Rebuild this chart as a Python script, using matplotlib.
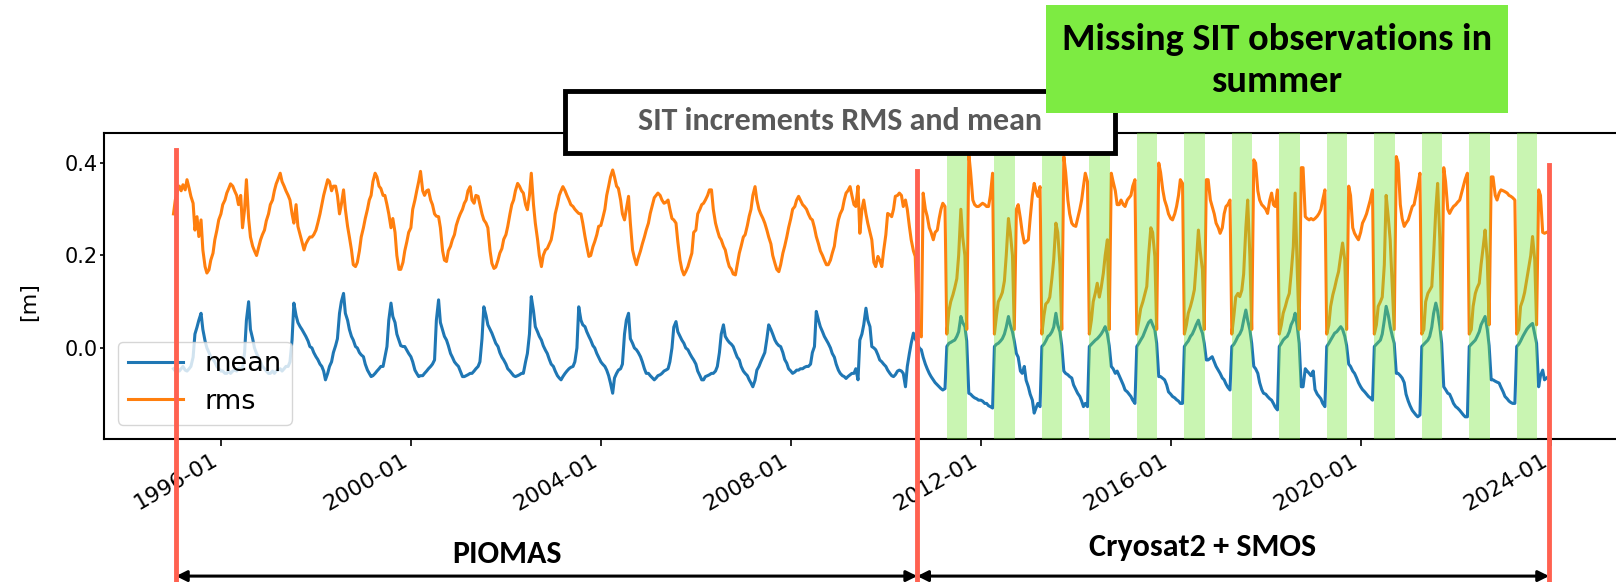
import matplotlib
matplotlib.use("Agg")
import matplotlib.pyplot as plt
import matplotlib.dates as mdates
from matplotlib.patches import Rectangle
from matplotlib import font_manager
import pandas as pd

# ---------------- data (semi-monthly samples: 1st and 15th of each month) ----------------
start_date = "1995-01-01"

rms_values = [
    # 1995
    0.29, 0.32, 0.34, 0.35, 0.34, 0.353, 0.342, 0.364, 0.346, 0.328, 0.313, 0.255, 0.284, 0.241, 0.277, 0.212, 0.176, 0.162, 0.169, 0.19, 0.205, 0.234, 0.255, 0.277,
    # 1996
    0.29, 0.31, 0.32, 0.335, 0.345, 0.355, 0.35, 0.34, 0.33, 0.31, 0.33, 0.26, 0.30, 0.364, 0.28, 0.24, 0.22, 0.21, 0.20, 0.215, 0.234, 0.245, 0.255, 0.275,
    # 1997
    0.29, 0.31, 0.32, 0.34, 0.355, 0.365, 0.378, 0.36, 0.35, 0.34, 0.33, 0.32, 0.29, 0.27, 0.31, 0.263, 0.245, 0.23, 0.212, 0.225, 0.234, 0.24, 0.24, 0.245,
    # 1998
    0.255, 0.27, 0.29, 0.31, 0.33, 0.345, 0.364, 0.36, 0.34, 0.35, 0.35, 0.33, 0.29, 0.31, 0.342, 0.30, 0.263, 0.24, 0.212, 0.18, 0.176, 0.185, 0.21, 0.24,
    # 1999
    0.26, 0.28, 0.30, 0.32, 0.33, 0.36, 0.378, 0.37, 0.35, 0.345, 0.33, 0.33, 0.31, 0.29, 0.26, 0.28, 0.25, 0.20, 0.17, 0.17, 0.185, 0.21, 0.23, 0.25,
    # 2000
    0.26, 0.30, 0.32, 0.34, 0.36, 0.382, 0.34, 0.33, 0.34, 0.342, 0.32, 0.31, 0.29, 0.285, 0.284, 0.26, 0.21, 0.19, 0.187, 0.21, 0.22, 0.234, 0.245, 0.265,
    # 2001
    0.28, 0.29, 0.30, 0.313, 0.32, 0.34, 0.349, 0.32, 0.313, 0.33, 0.328, 0.31, 0.29, 0.277, 0.27, 0.26, 0.21, 0.183, 0.172, 0.175, 0.19, 0.205, 0.215, 0.235,
    # 2002
    0.245, 0.263, 0.29, 0.31, 0.32, 0.34, 0.356, 0.35, 0.34, 0.335, 0.31, 0.299, 0.33, 0.378, 0.31, 0.27, 0.235, 0.20, 0.176, 0.20, 0.212, 0.215, 0.225, 0.234,
    # 2003
    0.26, 0.29, 0.31, 0.33, 0.34, 0.349, 0.34, 0.33, 0.32, 0.31, 0.306, 0.30, 0.295, 0.291, 0.29, 0.27, 0.241, 0.22, 0.198, 0.20, 0.219, 0.23, 0.245, 0.263,
    # 2004
    0.265, 0.28, 0.30, 0.33, 0.35, 0.37, 0.385, 0.37, 0.35, 0.345, 0.32, 0.29, 0.277, 0.30, 0.328, 0.27, 0.212, 0.195, 0.18, 0.195, 0.21, 0.225, 0.24, 0.255,
    # 2005
    0.27, 0.291, 0.31, 0.325, 0.33, 0.335, 0.33, 0.32, 0.313, 0.315, 0.32, 0.30, 0.28, 0.277, 0.27, 0.23, 0.19, 0.17, 0.158, 0.165, 0.176, 0.19, 0.205, 0.25,
    # 2006
    0.255, 0.29, 0.30, 0.31, 0.313, 0.32, 0.33, 0.342, 0.342, 0.30, 0.27, 0.255, 0.24, 0.234, 0.22, 0.212, 0.19, 0.176, 0.17, 0.16, 0.158, 0.18, 0.205, 0.22,
    # 2007
    0.24, 0.245, 0.265, 0.285, 0.30, 0.33, 0.349, 0.32, 0.30, 0.29, 0.28, 0.27, 0.255, 0.24, 0.225, 0.20, 0.183, 0.17, 0.165, 0.18, 0.205, 0.22, 0.24, 0.26,
    # 2008
    0.28, 0.30, 0.306, 0.32, 0.328, 0.32, 0.31, 0.306, 0.30, 0.29, 0.28, 0.277, 0.26, 0.241, 0.225, 0.21, 0.20, 0.19, 0.18, 0.18, 0.19, 0.205, 0.22, 0.25,
    # 2009
    0.277, 0.29, 0.30, 0.32, 0.335, 0.34, 0.349, 0.33, 0.31, 0.306, 0.35, 0.248, 0.30, 0.32, 0.29, 0.27, 0.25, 0.234, 0.185, 0.176, 0.198, 0.19, 0.176, 0.21,
    # 2010
    0.245, 0.291, 0.288, 0.284, 0.30, 0.328, 0.33, 0.335, 0.33, 0.306, 0.32, 0.30, 0.263, 0.234, 0.21, 0.198, 0.06, 0.03, 0.024, 0.335, 0.30, 0.285, 0.26, 0.25,
    # 2011
    0.234, 0.25, 0.255, 0.28, 0.30, 0.313, 0.306, 0.03, 0.08, 0.10, 0.115, 0.13, 0.15, 0.20, 0.30, 0.24, 0.20, 0.04, 0.42, 0.38, 0.32, 0.31, 0.306, 0.306,
    # 2012
    0.31, 0.313, 0.31, 0.306, 0.306, 0.33, 0.378, 0.03, 0.07, 0.10, 0.11, 0.12, 0.145, 0.20, 0.28, 0.25, 0.20, 0.04, 0.30, 0.31, 0.28, 0.25, 0.227, 0.23,
    # 2013
    0.234, 0.28, 0.33, 0.356, 0.34, 0.328, 0.349, 0.03, 0.07, 0.095, 0.10, 0.11, 0.15, 0.19, 0.27, 0.25, 0.18, 0.04, 0.414, 0.38, 0.32, 0.29, 0.27, 0.265,
    # 2014
    0.263, 0.28, 0.30, 0.32, 0.35, 0.378, 0.36, 0.03, 0.06, 0.10, 0.12, 0.14, 0.11, 0.13, 0.162, 0.20, 0.234, 0.04, 0.378, 0.36, 0.34, 0.31, 0.31, 0.32,
    # 2015
    0.31, 0.306, 0.32, 0.325, 0.33, 0.35, 0.364, 0.03, 0.06, 0.085, 0.10, 0.115, 0.133, 0.20, 0.26, 0.25, 0.198, 0.04, 0.40, 0.38, 0.342, 0.32, 0.306, 0.29,
    # 2016
    0.28, 0.277, 0.29, 0.306, 0.33, 0.364, 0.356, 0.03, 0.05, 0.075, 0.09, 0.105, 0.126, 0.18, 0.255, 0.21, 0.169, 0.04, 0.364, 0.364, 0.32, 0.306, 0.29, 0.27,
    # 2017
    0.26, 0.248, 0.26, 0.29, 0.306, 0.31, 0.32, 0.03, 0.07, 0.11, 0.118, 0.111, 0.125, 0.16, 0.26, 0.32, 0.198, 0.04, 0.407, 0.40, 0.34, 0.32, 0.31, 0.306,
    # 2018
    0.30, 0.291, 0.32, 0.335, 0.31, 0.306, 0.342, 0.03, 0.05, 0.075, 0.09, 0.105, 0.118, 0.16, 0.219, 0.335, 0.162, 0.04, 0.39, 0.39, 0.284, 0.28, 0.277, 0.28,
    # 2019
    0.277, 0.28, 0.285, 0.291, 0.30, 0.32, 0.342, 0.03, 0.05, 0.09, 0.115, 0.13, 0.15, 0.165, 0.20, 0.227, 0.19, 0.04, 0.35, 0.33, 0.26, 0.248, 0.24, 0.234,
    # 2020
    0.25, 0.27, 0.28, 0.29, 0.306, 0.32, 0.342, 0.03, 0.05, 0.09, 0.10, 0.11, 0.18, 0.33, 0.28, 0.234, 0.13, 0.04, 0.414, 0.40, 0.31, 0.28, 0.263, 0.27,
    # 2021
    0.277, 0.29, 0.306, 0.31, 0.33, 0.35, 0.378, 0.03, 0.04, 0.10, 0.118, 0.125, 0.133, 0.20, 0.30, 0.356, 0.234, 0.04, 0.39, 0.36, 0.30, 0.291, 0.30, 0.306,
    # 2022
    0.31, 0.315, 0.32, 0.335, 0.35, 0.365, 0.378, 0.03, 0.04, 0.09, 0.118, 0.13, 0.14, 0.18, 0.22, 0.255, 0.19, 0.05, 0.37, 0.37, 0.33, 0.32, 0.335, 0.342,
    # 2023 (to December 1st)
    0.34, 0.338, 0.335, 0.33, 0.328, 0.325, 0.32, 0.03, 0.04, 0.09, 0.104, 0.12, 0.147, 0.17, 0.20, 0.241, 0.19, 0.05, 0.342, 0.33, 0.25, 0.248, 0.25,
]

mean_values = [
    # 1995
    -0.045, -0.05, -0.045, -0.05, -0.045, -0.04, -0.048, -0.05, -0.045, -0.04, -0.02, 0.03, 0.045, 0.06, 0.075, 0.04, 0.015, 0.0, -0.01, -0.02, -0.025, -0.03, -0.04, -0.045,
    # 1996
    -0.05, -0.05, -0.055, -0.055, -0.05, -0.055, -0.05, -0.048, -0.05, -0.045, -0.045, -0.045, -0.01, 0.06, 0.10, 0.04, 0.02, 0.0, -0.012, -0.02, -0.03, -0.04, -0.045, -0.05,
    # 1997
    -0.055, -0.055, -0.05, -0.055, -0.05, -0.048, -0.045, -0.05, -0.045, -0.04, -0.04, -0.03, 0.017, 0.097, 0.07, 0.055, 0.046, 0.04, 0.032, 0.025, 0.015, 0.003, 0.0, -0.01,
    # 1998
    -0.019, -0.025, -0.035, -0.04, -0.05, -0.069, -0.055, -0.04, -0.03, -0.01, 0.005, 0.02, 0.075, 0.10, 0.118, 0.075, 0.06, 0.04, 0.025, 0.017, 0.003, 0.0, -0.01, -0.015,
    # 1999
    -0.019, -0.035, -0.048, -0.055, -0.062, -0.06, -0.055, -0.05, -0.045, -0.04, -0.04, -0.02, 0.003, 0.06, 0.097, 0.068, 0.055, 0.03, 0.017, 0.005, 0.003, 0.003, -0.005, -0.012,
    # 2000
    -0.019, -0.03, -0.048, -0.055, -0.062, -0.06, -0.06, -0.055, -0.05, -0.045, -0.04, -0.035, -0.026, 0.06, 0.104, 0.055, 0.039, 0.025, 0.017, 0.005, -0.012, -0.02, -0.03, -0.035,
    # 2001
    -0.04, -0.05, -0.062, -0.062, -0.06, -0.058, -0.055, -0.055, -0.05, -0.045, -0.04, -0.03, 0.02, 0.089, 0.07, 0.05, 0.04, 0.032, 0.02, 0.01, 0.003, -0.01, -0.02, -0.026,
    # 2002
    -0.035, -0.045, -0.05, -0.055, -0.06, -0.062, -0.06, -0.058, -0.055, -0.055, -0.03, -0.012, 0.03, 0.111, 0.08, 0.046, 0.035, 0.025, 0.017, 0.005, -0.005, -0.012, -0.025, -0.035,
    # 2003
    -0.04, -0.05, -0.06, -0.065, -0.069, -0.062, -0.055, -0.05, -0.045, -0.042, -0.04, -0.03, 0.0, 0.089, 0.06, 0.05, 0.046, 0.035, 0.025, 0.017, 0.005, 0.0, -0.012, -0.02,
    # 2004
    -0.03, -0.035, -0.04, -0.048, -0.06, -0.076, -0.098, -0.065, -0.055, -0.048, -0.045, -0.035, 0.03, 0.06, 0.075, 0.02, 0.01, 0.0, -0.004, -0.01, -0.019, -0.03, -0.045, -0.055,
    # 2005
    -0.055, -0.06, -0.065, -0.069, -0.065, -0.06, -0.058, -0.055, -0.05, -0.048, -0.045, -0.03, 0.0, 0.045, 0.057, 0.035, 0.025, 0.017, 0.01, 0.0, -0.004, -0.012, -0.02, -0.026,
    # 2006
    -0.035, -0.05, -0.06, -0.069, -0.069, -0.062, -0.06, -0.058, -0.055, -0.055, -0.05, -0.04, -0.01, 0.03, 0.05, 0.025, 0.017, 0.012, 0.008, 0.003, -0.01, -0.02, -0.026, -0.04,
    # 2007
    -0.05, -0.055, -0.06, -0.069, -0.076, -0.084, -0.07, -0.048, -0.04, -0.03, -0.019, -0.01, 0.02, 0.05, 0.04, 0.03, 0.017, 0.01, 0.005, 0.003, -0.01, -0.025, -0.033, -0.045,
    # 2008
    -0.05, -0.055, -0.052, -0.048, -0.048, -0.045, -0.045, -0.042, -0.04, -0.04, -0.035, -0.01, 0.003, 0.079, 0.06, 0.046, 0.035, 0.025, 0.017, 0.01, 0.0, -0.012, -0.02, -0.035,
    # 2009
    -0.048, -0.055, -0.06, -0.062, -0.066, -0.062, -0.058, -0.055, -0.055, -0.045, -0.069, 0.017, 0.03, 0.05, 0.086, 0.06, 0.046, 0.003, 0.0, -0.004, -0.015, -0.026, -0.03, -0.035,
    # 2010
    -0.04, -0.048, -0.055, -0.06, -0.062, -0.058, -0.05, -0.048, -0.05, -0.055, -0.084, -0.04, -0.012, 0.01, 0.032, 0.02, 0.01, 0.0, -0.004, -0.02, -0.035, -0.045, -0.055, -0.062,
    # 2011
    -0.069, -0.075, -0.08, -0.084, -0.088, -0.091, -0.088, 0.003, 0.01, 0.012, 0.015, 0.017, 0.025, 0.035, 0.068, 0.055, 0.046, 0.015, -0.098, -0.1, -0.105, -0.108, -0.11, -0.113,
    # 2012
    -0.113, -0.115, -0.12, -0.12, -0.125, -0.127, -0.13, 0.003, 0.008, 0.01, 0.015, 0.02, 0.03, 0.045, 0.068, 0.05, 0.035, 0.015, -0.012, -0.02, -0.05, -0.055, -0.04, -0.07,
    # 2013
    -0.084, -0.1, -0.113, -0.141, -0.13, -0.12, -0.127, 0.003, 0.008, 0.015, 0.025, 0.028, 0.035, 0.045, 0.075, 0.05, 0.035, 0.005, -0.05, -0.055, -0.058, -0.062, -0.065, -0.08,
    # 2014
    -0.09, -0.098, -0.105, -0.115, -0.127, -0.12, -0.127, 0.003, 0.008, 0.012, 0.017, 0.02, 0.025, 0.03, 0.038, 0.046, 0.03, 0.005, -0.04, -0.045, -0.055, -0.05, -0.06, -0.069,
    # 2015
    -0.08, -0.091, -0.095, -0.1, -0.105, -0.113, -0.12, 0.003, 0.01, 0.017, 0.025, 0.035, 0.046, 0.055, 0.06, 0.05, 0.039, 0.01, -0.062, -0.062, -0.066, -0.069, -0.08, -0.095,
    # 2016
    -0.1, -0.105, -0.108, -0.112, -0.115, -0.12, -0.12, 0.003, 0.01, 0.015, 0.025, 0.03, 0.04, 0.05, 0.06, 0.045, 0.032, 0.01, -0.026, -0.026, -0.022, -0.019, -0.03, -0.04,
    # 2017
    -0.048, -0.055, -0.065, -0.069, -0.078, -0.085, -0.091, 0.003, 0.008, 0.015, 0.025, 0.03, 0.04, 0.06, 0.082, 0.06, 0.039, 0.01, -0.04, -0.045, -0.055, -0.075, -0.09, -0.098,
    # 2018
    -0.1, -0.105, -0.11, -0.113, -0.12, -0.128, -0.134, 0.003, 0.01, 0.017, 0.022, 0.025, 0.035, 0.05, 0.06, 0.075, 0.045, 0.01, -0.084, -0.084, -0.045, -0.05, -0.055, -0.06,
    # 2019
    -0.05, -0.09, -0.1, -0.105, -0.11, -0.12, -0.127, 0.003, 0.01, 0.017, 0.025, 0.032, 0.035, 0.04, 0.046, 0.04, 0.025, 0.005, -0.035, -0.04, -0.05, -0.055, -0.065, -0.075,
    # 2020
    -0.084, -0.09, -0.095, -0.1, -0.105, -0.108, -0.113, 0.003, 0.008, 0.012, 0.017, 0.03, 0.06, 0.09, 0.07, 0.046, 0.025, 0.01, -0.055, -0.055, -0.06, -0.065, -0.075, -0.1,
    # 2021
    -0.115, -0.125, -0.135, -0.14, -0.145, -0.149, -0.145, 0.003, 0.008, 0.012, 0.017, 0.025, 0.045, 0.075, 0.097, 0.08, 0.046, 0.01, -0.084, -0.09, -0.098, -0.1, -0.11, -0.12,
    # 2022
    -0.127, -0.13, -0.135, -0.14, -0.145, -0.149, -0.149, 0.003, 0.008, 0.012, 0.017, 0.025, 0.035, 0.05, 0.06, 0.068, 0.04, 0.005, -0.069, -0.069, -0.072, -0.074, -0.076, -0.085,
    # 2023 (to December 1st)
    -0.095, -0.105, -0.11, -0.115, -0.118, -0.12, -0.12, 0.003, 0.008, 0.015, 0.025, 0.032, 0.04, 0.045, 0.05, 0.053, 0.03, 0.01, -0.084, -0.06, -0.048, -0.069, -0.065,
]

series_labels = ["mean", "rms"]
summer_years = list(range(2011, 2024))          # shaded: no SIT observations
summer_start, summer_end = "04-15", "09-20"
period_bounds = ["1995-01-20", "2010-08-30", "2023-12-20"]
period_labels = ["PIOMAS", "Cryosat2 + SMOS"]
xtick_years = [1996, 2000, 2004, 2008, 2012, 2016, 2020, 2024]
yticks = [0.0, 0.2, 0.4]
title_text = "SIT increments RMS and mean"
note_lines = ["Missing SIT observations in", "summer"]
ylabel_text = "[m]"

# ---------------- fonts ----------------
available = {f.name for f in font_manager.fontManager.ttflist}
ann_font = "DejaVu Sans"
for cand in ["Carlito", "Liberation Sans Narrow", "Open Sans", "Liberation Sans"]:
    if cand in available:
        ann_font = cand
        break
narrow = ann_font in ("Carlito", "Liberation Sans Narrow")
scale = 1.0 if narrow else 0.82

# ---------------- figure ----------------
W, H = 1616, 582
fig = plt.figure(figsize=(W / 100, H / 100), dpi=100)


def fx(px):
    return px / W


def fy(py):
    return 1 - py / H


ax = fig.add_axes([fx(104), fy(439), fx(1616) - fx(104), fy(133) - fy(439)])

dates = pd.date_range(start_date, periods=len(rms_values), freq="SMS")
ax.plot(dates, mean_values, color="#1f77b4", lw=2.2, label=series_labels[0], zorder=2)
ax.plot(dates, rms_values, color="#ff7f0e", lw=2.2, label=series_labels[1], zorder=2)

for y in summer_years:
    ax.axvspan(pd.Timestamp(f"{y}-{summer_start}"), pd.Timestamp(f"{y}-{summer_end}"),
               facecolor=(0.47, 0.90, 0.25), alpha=0.4, lw=0, zorder=3)


def frac_year(t):
    yr = int(t)
    a = pd.Timestamp(f"{yr}-01-01")
    b = pd.Timestamp(f"{yr + 1}-01-01")
    return a + (b - a) * (t - yr)


ax.set_xlim(frac_year(1993.536), frac_year(2025.375))
ax.set_ylim(-0.197, 0.465)
ax.set_xticks([pd.Timestamp(f"{y}-01-01") for y in xtick_years])
ax.xaxis.set_major_formatter(mdates.DateFormatter("%Y-%m"))
ax.set_yticks(yticks)
ax.set_yticklabels([f"{v:.1f}" for v in yticks])
ax.tick_params(axis="x", labelsize=16, width=1.2, length=5, pad=3)
ax.tick_params(axis="y", labelsize=15, width=1.2, length=3, pad=1.2)
for lab in ax.get_xticklabels():
    lab.set_rotation(30)
    lab.set_ha("right")
for s in ["left", "top", "bottom"]:
    ax.spines[s].set_linewidth(1.5)
ax.spines["right"].set_visible(False)

ax.set_ylabel(ylabel_text, fontsize=16)
ax.yaxis.set_label_coords(-0.043, 0.45)

leg = ax.legend(loc="lower left", bbox_to_anchor=(0.0093, 0.047), fontsize=19.5,
                borderaxespad=0.0, labelspacing=0.42, borderpad=0.36,
                handlelength=2.05, handletextpad=0.8)
leg.set_zorder(5)

# red period boundaries
tops = [0.944, 0.876, 0.895]
for d, top in zip(period_bounds, tops):
    ax.axvline(pd.Timestamp(d), ymin=-0.47, ymax=top, color="#ff6150", lw=3.5,
               clip_on=False, zorder=10)

# period arrows
arrow_y = -0.448
for (d0, d1) in [(period_bounds[0], period_bounds[1]), (period_bounds[1], period_bounds[2])]:
    ax.annotate("", xy=(pd.Timestamp(d1), arrow_y), xytext=(pd.Timestamp(d0), arrow_y),
                xycoords=("data", "axes fraction"), textcoords=("data", "axes fraction"),
                arrowprops=dict(arrowstyle="<|-|>", color="black", lw=2.2,
                                mutation_scale=16, shrinkA=0, shrinkB=0),
                annotation_clip=False, zorder=9)

fig.text(fx(507), fy(554), period_labels[0], ha="center", va="center",
         fontsize=23 * scale, fontweight="bold", family=ann_font)
fig.text(fx(1203), fy(547), period_labels[1], ha="center", va="center",
         fontsize=23 * scale, fontweight="bold", family=ann_font)

# title box
fig.patches.append(Rectangle((fx(565), fy(153)), fx(1115) - fx(565), fy(91) - fy(153),
                             transform=fig.transFigure, facecolor="white",
                             edgecolor="black", lw=3.5, zorder=20))
fig.text(fx(840), fy(121), title_text, ha="center", va="center", color="#595959",
         fontsize=23 * scale, fontweight="bold", family=ann_font, zorder=21)

# green note box
fig.patches.append(Rectangle((fx(1046), fy(113)), fx(1508) - fx(1046), fy(5) - fy(113),
                             transform=fig.transFigure, facecolor="#7deb42",
                             edgecolor="none", zorder=20))
fig.text(fx(1277), fy(39), note_lines[0], ha="center", va="center", color="black",
         fontsize=27.5 * scale, fontweight="bold", family=ann_font, zorder=21)
fig.text(fx(1277), fy(82), note_lines[1], ha="center", va="center", color="black",
         fontsize=27.5 * scale, fontweight="bold", family=ann_font, zorder=21)

fig.savefig("out.png", dpi=100)
